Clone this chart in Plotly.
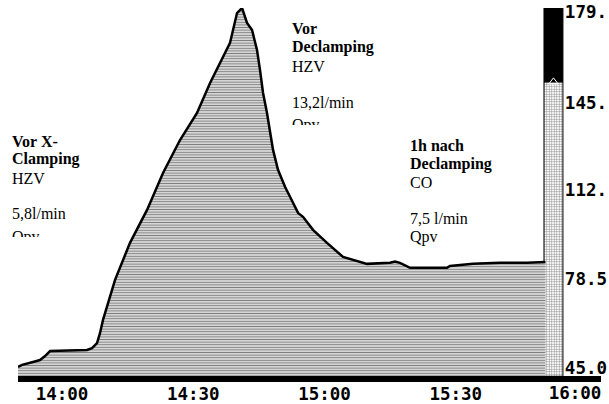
import plotly.graph_objects as go

DAY = "2000-01-01 "

# Monitor trace (time, value)
times = [
    "13:49:56", "13:50:52", "13:53:22", "13:54:58", "13:56:07", "13:57:16",
    "14:05:43", "14:06:51", "14:08:00", "14:08:41", "14:09:22", "14:10:31",
    "14:12:07", "14:15:32", "14:19:26", "14:23:05", "14:26:58", "14:30:51",
    "14:33:50", "14:38:24", "14:40:00", "14:41:09", "14:41:50", "14:42:17",
    "14:43:26", "14:44:07", "14:44:34", "14:45:15", "14:45:57", "14:46:51",
    "14:47:33", "14:48:14", "14:49:22", "14:50:58", "14:52:48", "14:53:57",
    "14:55:05", "14:57:22", "15:00:34", "15:04:14", "15:09:43", "15:14:58",
    "15:16:07", "15:17:15", "15:19:33", "15:28:00", "15:28:41", "15:33:57",
    "15:40:07", "15:46:17", "15:50:30",
]
values = [
    45.5, 46.3, 47.4, 48.1, 49.6, 51.5,
    51.9, 52.6, 54.5, 58.3, 63.2, 69.6,
    78.3, 92.2, 104.6, 118.5, 130.9, 141.1,
    152.4, 167.5, 178.7, 180.6, 177.2, 175.0,
    172.3, 167.4, 164.8, 157.3, 148.6, 141.1,
    133.6, 127.2, 119.7, 113.3, 107.3, 103.5,
    102.0, 97.1, 92.2, 86.9, 84.3, 84.7,
    85.2, 84.7, 82.8, 82.8, 83.5, 84.3,
    84.7, 84.7, 85.0,
]

# Side gauge bar
gauge_time = ["15:52:20"]
gauge_level = [152.8]
gauge_top = [181.0]
gauge_base = 42.0
gauge_width_ms = 260000

# Axes
y_range = [42.1, 180.6]
x_range = ["13:49:56", "16:03:12"]
y_tickvals = [45.0, 78.5, 112.0, 145.0, 179.0]
y_ticktext = ["45.0", "78.5", "112.", "145.", "179."]
x_tickvals = ["14:00", "14:30", "15:00", "15:30"]
x_last_tick = ["16:00"]

# Annotation blocks: (lines, bold flags)
notes = [
    (["Vor X-", "Clamping", "HZV", "5,8l/min", "Qpv"], [1, 1, 0, 0, 0]),
    (["Vor", "Declamping", "HZV", "13,2l/min", "Qpv"], [1, 1, 0, 0, 0]),
    (["1h nach", "Declamping", "CO", "7,5 l/min", "Qpv"], [1, 1, 0, 0, 0]),
]
# layout of annotation blocks in pixels: left x, line centers, clip last line
note_x = [10, 290, 408]
note_lines_y = [
    [141, 159, 178, 214, 233],
    [28, 47, 66, 102, 121],
    [145, 164, 183, 218, 237],
]
note_cut_last = [True, True, False]

fig = go.Figure()

fig.add_trace(go.Scatter(
    x=[DAY + t for t in times], y=values, mode="lines",
    line=dict(color="black", width=2.5),
    fill="tozeroy", fillcolor="white",
    fillpattern=dict(shape="-", fgcolor="black", bgcolor="white",
                     size=2.6, solidity=0.55),
    hoverinfo="skip", showlegend=False,
))

fig.add_trace(go.Bar(
    x=[DAY + t for t in gauge_time],
    y=[v - gauge_base for v in gauge_level], base=gauge_base,
    width=gauge_width_ms,
    marker=dict(color="white", line=dict(color="black", width=1),
                pattern=dict(shape="+", fgcolor="black", bgcolor="white",
                             size=2.5, solidity=0.35)),
    showlegend=False, hoverinfo="skip",
))
fig.add_trace(go.Bar(
    x=[DAY + t for t in gauge_time],
    y=[gauge_top[0] - gauge_level[0]], base=gauge_level,
    width=gauge_width_ms,
    marker=dict(color="black", line=dict(color="black", width=1)),
    showlegend=False, hoverinfo="skip",
))
fig.add_trace(go.Scatter(
    x=[DAY + t for t in gauge_time], y=gauge_level, mode="markers",
    xaxis="x2",
    marker=dict(symbol="triangle-up-open", size=8, color="white",
                line=dict(color="white", width=1)),
    showlegend=False, hoverinfo="skip",
))

tick_font = dict(family="DejaVu Sans Mono", size=17.5, color="black", weight="bold")

L, R, T, B = 18, 8, 8, 28
W, H = 609, 404
pw, ph = W - L - R, H - T - B

fig.update_layout(
    width=W, height=H,
    margin=dict(l=L, r=R, t=T, b=B, autoexpand=False),
    paper_bgcolor="white", plot_bgcolor="white",
    barmode="overlay",
    xaxis=dict(
        type="date",
        range=[DAY + x_range[0], DAY + x_range[1]],
        tickvals=[DAY + t for t in x_tickvals],
        ticktext=x_tickvals,
        tickfont=tick_font,
        showgrid=False, zeroline=False,
        showline=True, linewidth=6, linecolor="black",
        ticks="", ticklabelstandoff=-3,
        ticklabeloverflow="allow", automargin=False,
    ),
    xaxis2=dict(
        type="date", overlaying="x", matches="x", anchor="y", side="bottom",
        range=[DAY + x_range[0], DAY + x_range[1]],
        tickvals=[DAY + t for t in x_last_tick],
        ticktext=x_last_tick,
        tickfont=tick_font,
        showgrid=False, zeroline=False, showline=False,
        ticks="", ticklabelstandoff=4, ticklabelshift=-12,
        ticklabeloverflow="allow", automargin=False,
    ),
    yaxis=dict(
        range=y_range,
        side="right",
        tickvals=y_tickvals, ticktext=y_ticktext,
        ticklabelposition="inside",
        ticklabeloverflow="allow",
        ticklabelstandoff=-9,
        tickfont=tick_font,
        showgrid=False, zeroline=False, showline=False,
        ticks="", automargin=False,
    ),
)

for (lines, bold), nx, ys, cut in zip(notes, note_x, note_lines_y, note_cut_last):
    for i, (txt, b, yc) in enumerate(zip(lines, bold, ys)):
        last_cut = cut and i == len(lines) - 1
        if last_cut:
            kw = dict(height=9, valign="top", yanchor="top",
                      y=(H - B - (yc - 7)) / ph)
        else:
            kw = dict(yanchor="middle", y=(H - B - yc) / ph)
        fig.add_annotation(
            text=f"<b>{txt}</b>" if b else txt,
            xref="paper", yref="paper", x=(nx - L) / pw,
            xanchor="left", align="left", showarrow=False,
            font=dict(family="Liberation Serif", size=16, color="black"),
            **kw,
        )

fig.write_html("out.html")
